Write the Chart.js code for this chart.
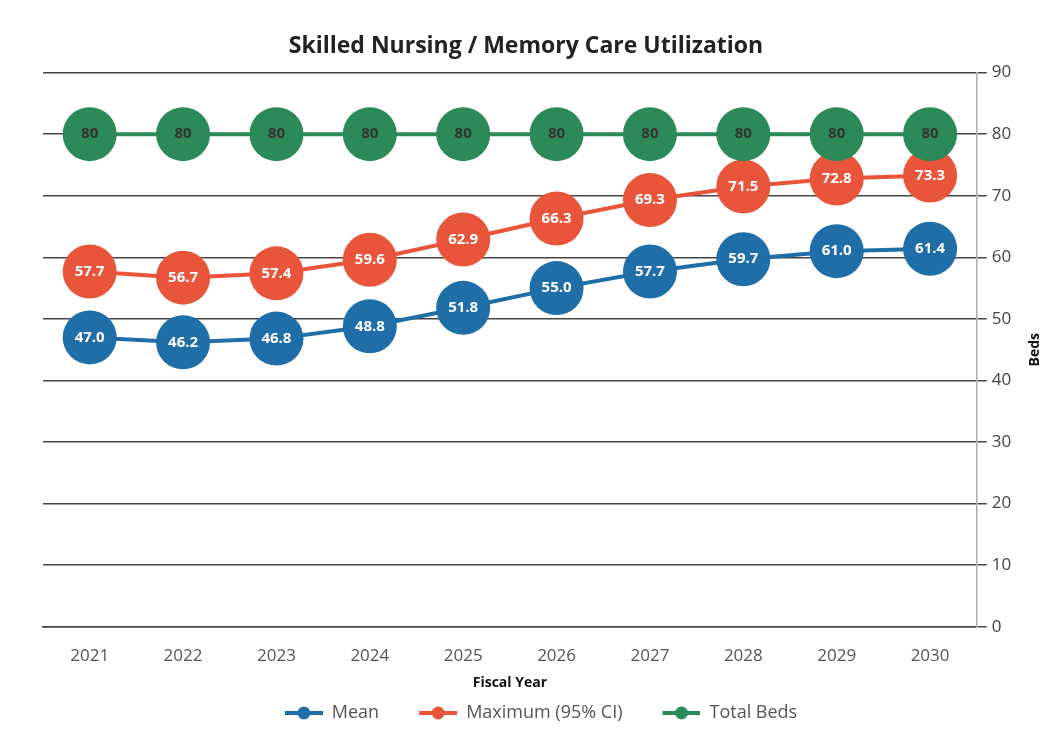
<!DOCTYPE html>
<html>
<head>
<meta charset="utf-8">
<script src="https://cdn.jsdelivr.net/npm/chart.js@4"></script>
<style>
  html, body { margin: 0; padding: 0; background: #fff; }
  #wrap { width: 1052px; height: 734px; }
</style>
</head>
<body>
<div id="wrap"><canvas id="chart"></canvas></div>
<script>
// chart data
const years = ['2021', '2022', '2023', '2024', '2025', '2026', '2027', '2028', '2029', '2030'];
const meanBeds = [47.0, 46.2, 46.8, 48.8, 51.8, 55.0, 57.7, 59.7, 61.0, 61.4];
const maxBeds = [57.7, 56.7, 57.4, 59.6, 62.9, 66.3, 69.3, 71.5, 72.8, 73.3];
const totalBeds = [80, 80, 80, 80, 80, 80, 80, 80, 80, 80];

const blue = '#1f6ea8';
const red = '#e8553a';
const green = '#2b8a57';
const fontName = '"Open Sans", Lato, sans-serif';

// legend marker: line with a dot, transparent gap on the left
const markerGap = 30;
function legendMarker(color) {
    const c = document.createElement('canvas');
    c.width = 38 + markerGap; c.height = 14;
    const ctx = c.getContext('2d');
    ctx.strokeStyle = color;
    ctx.lineWidth = 4;
    ctx.beginPath();
    ctx.moveTo(markerGap, 7); ctx.lineTo(markerGap + 38, 7);
    ctx.stroke();
    ctx.fillStyle = color;
    ctx.beginPath();
    ctx.arc(markerGap + 19, 7, 6.5, 0, Math.PI * 2);
    ctx.fill();
    return c;
}

// value labels inside the circles, drawn right after each dataset
const circleLabels = {
    id: 'circleLabels',
    afterDatasetDraw(chart, args) {
        const ds = chart.data.datasets[args.index];
        const ctx = chart.ctx;
        ctx.save();
        ctx.font = 'bold 15px ' + fontName;
        ctx.textAlign = 'center';
        ctx.textBaseline = 'middle';
        ctx.fillStyle = ds.labelColor;
        args.meta.data.forEach((pt, i) => {
            const v = ds.data[i];
            ctx.fillText(ds.labelDigits ? v.toFixed(1) : String(v), pt.x, pt.y);
        });
        ctx.restore();
    }
};

// "Beds" reads bottom to top in the original, so draw it ourselves
const bedsTitle = {
    id: 'bedsTitle',
    afterDraw(chart) {
        const y = chart.scales.y;
        const ctx = chart.ctx;
        ctx.save();
        ctx.translate(y.right - 17, (y.top + y.bottom) / 2);
        ctx.rotate(-Math.PI / 2);
        ctx.font = 'bold 14px ' + fontName;
        ctx.fillStyle = '#111';
        ctx.textAlign = 'center';
        ctx.textBaseline = 'middle';
        ctx.fillText('Beds', 0, 0);
        ctx.restore();
    }
};

function series(label, data, color, order, labelColor, labelDigits) {
    return {
        label: label,
        data: data,
        borderColor: color,
        backgroundColor: color,
        borderWidth: 4,
        pointRadius: 27,
        pointBorderWidth: 0,
        pointBackgroundColor: color,
        pointStyle: 'circle',
        order: order,
        labelColor: labelColor,
        labelDigits: labelDigits,
        markerImg: legendMarker(color)
    };
}

new Chart(document.getElementById('chart'), {
    type: 'line',
    data: {
        labels: years,
        datasets: [
            series('Mean', meanBeds, blue, 3, '#ffffff', true),
            series('Maximum (95% CI)', maxBeds, red, 2, '#ffffff', true),
            series('Total Beds', totalBeds, green, 1, '#333333', false)
        ]
    },
    options: {
        responsive: true,
        maintainAspectRatio: false,
        animation: false,
        layout: { padding: { left: 0, right: 0, top: 12, bottom: 2 } },
        plugins: {
            title: {
                display: true,
                text: 'Skilled Nursing / Memory Care Utilization',
                color: '#222',
                font: { family: fontName, size: 23, weight: 'bold' },
                padding: { top: 21, bottom: 12 }
            },
            legend: {
                position: 'bottom',
                labels: {
                    color: '#555',
                    font: { family: fontName, size: 18 },
                    usePointStyle: true,
                    pointStyleWidth: 38 + markerGap,
                    padding: 10,
                    generateLabels(chart) {
                        return chart.data.datasets.map((ds, i) => ({
                            text: ds.label,
                            fontColor: '#555',
                            pointStyle: ds.markerImg,
                            datasetIndex: i,
                            hidden: false,
                            lineWidth: 0
                        }));
                    }
                }
            },
            tooltip: { enabled: false }
        },
        scales: {
            x: {
                offset: true,
                grid: { display: false },
                border: { display: true, color: '#444', width: 1.5 },
                ticks: {
                    color: '#555',
                    font: { family: fontName, size: 17 },
                    padding: 11
                },
                title: {
                    display: true,
                    text: 'Fiscal Year',
                    color: '#111',
                    font: { family: fontName, size: 14, weight: 'bold' },
                    padding: { top: -3, bottom: 3 }
                }
            },
            y: {
                position: 'right',
                min: 0,
                max: 90,
                ticks: {
                    stepSize: 10,
                    color: '#444',
                    font: { family: fontName, size: 17 },
                    padding: 5
                },
                grid: {
                    color: '#444',
                    lineWidth: 1.5,
                    tickLength: 10,
                    drawTicks: true
                },
                border: { display: true, color: '#aaa', width: 1.5 },
                // keeps the room for the title, which bedsTitle draws
                title: {
                    display: true,
                    text: 'Beds',
                    color: 'rgba(0,0,0,0)',
                    font: { family: fontName, size: 14, weight: 'bold' },
                    padding: { top: 7, bottom: 12 }
                }
            },
            // empty left margin so the plot starts where the original does
            leftSpace: {
                position: 'left',
                display: true,
                grid: { display: false },
                border: { display: false },
                ticks: { display: false },
                afterFit(scale) { scale.width = 43; }
            }
        }
    },
    plugins: [circleLabels, bedsTitle]
});
</script>
</body>
</html>
